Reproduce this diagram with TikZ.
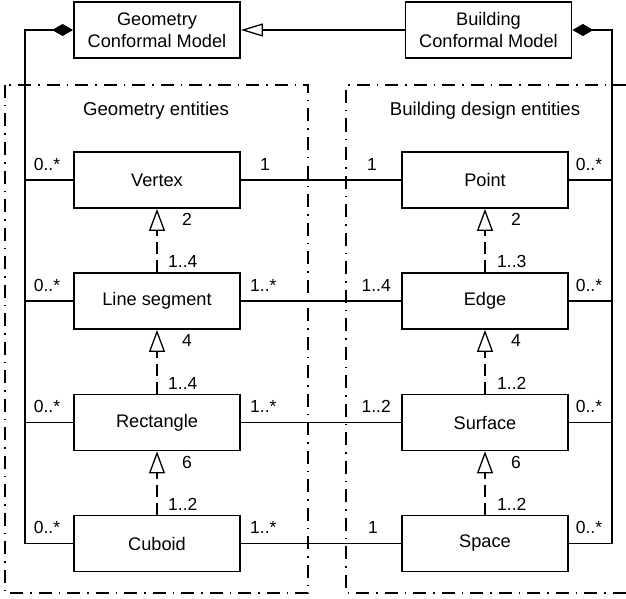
\documentclass[tikz,border=0pt]{standalone}
\usepackage{fontspec}
\setmainfont{Liberation Sans}
\usetikzlibrary{arrows.meta}
\begin{document}
\begin{tikzpicture}[x=1pt,y=-1pt,
  box/.style={draw,line width=1.8pt,minimum width=166pt,minimum height=56pt,inner sep=0pt,
    font=\fontsize{18.2}{22}\selectfont,align=center},
  lbl/.style={inner sep=0pt,font=\fontsize{17.5}{21}\selectfont},
  ttl/.style={inner sep=0pt,font=\fontsize{18.6}{22}\selectfont},
  conn/.style={line width=1.2pt},
  rail/.style={line width=1.6pt},
  frame/.style={line width=1.8pt,dash pattern=on 13pt off 7pt on 1.5pt off 7pt},
  gen/.style={conn,-{Triangle[open,length=22pt,width=13pt,line width=1.3pt]}},
  realize/.style={conn,dash pattern=on 12pt off 6pt,-{Triangle[open,length=22pt,width=16pt,line width=1.3pt]}},
  comp/.style={rail,{Diamond[length=21pt,width=12pt]}-}
]
\useasboundingbox (0,0) rectangle (626,599);

% frames
\draw[frame] (5,85) rectangle (308,593);
\draw[frame] (626,85) -- (346,85) -- (346,593) -- (626,593);

% top boxes
\node[box] (gcm) at (157,30) {Geometry\\Conformal Model};
\node[box] (bcm) at (488.5,30) {Building\\Conformal Model};

% titles
\node[ttl] (geotitle) at (156,111) {Geometry entities};
\node[ttl] (bldtitle) at (485,111) {Building design entities};

% entity boxes
\node[box] (vertex) at (157,180) {Vertex};
\node[box] (lineseg) at (157,301) {Line segment};
\node[box] (rect) at (157,422.5) {Rectangle};
\node[box] (cuboid) at (157,543.5) {Cuboid};
\node[box] (point) at (485,180) {Point};
\node[box] (edge) at (485,301) {Edge};
\node[box] (surface) at (485,422.5) {Surface};
\node[box] (space) at (485,543.5) {Space};

% generalisation between models
\draw[gen] (bcm.west) -- (gcm.east);

% rails with composition diamonds
\coordinate (lrtop) at (25,30);
\coordinate (lrbot) at (25,543.5);
\coordinate (rrtop) at (612,30);
\coordinate (rrbot) at (612,543.5);
\draw[comp] (gcm.west) -- (lrtop) -- (lrbot) -- (cuboid.west);
\draw[comp] (bcm.east) -- (rrtop) -- (rrbot) -- (space.east);
\draw[conn] (vertex.west) -- (vertex.west -| lrtop);
\draw[conn] (lineseg.west) -- (lineseg.west -| lrtop);
\draw[conn] (rect.west) -- (rect.west -| lrtop);
\draw[conn] (point.east) -- (point.east -| rrtop);
\draw[conn] (edge.east) -- (edge.east -| rrtop);
\draw[conn] (surface.east) -- (surface.east -| rrtop);

% associations
\draw[conn] (vertex.east) -- (point.west);
\draw[conn] (lineseg.east) -- (edge.west);
\draw[conn] (rect.east) -- (surface.west);
\draw[conn] (cuboid.east) -- (space.west);

% realisations
\draw[realize] (lineseg.north) -- (vertex.south);
\draw[realize] (rect.north) -- (lineseg.south);
\draw[realize] (cuboid.north) -- (rect.south);
\draw[realize] (edge.north) -- (point.south);
\draw[realize] (surface.north) -- (edge.south);
\draw[realize] (space.north) -- (surface.south);

% left rail multiplicities
\node[lbl] (m1) at (47,164) {0..*};
\node[lbl] (m2) at (47,285) {0..*};
\node[lbl] (m3) at (47,406.5) {0..*};
\node[lbl] (m4) at (47,527.5) {0..*};
% right rail multiplicities
\node[lbl] (m5) at (589,164) {0..*};
\node[lbl] (m6) at (589,285) {0..*};
\node[lbl] (m7) at (589,406.5) {0..*};
\node[lbl] (m8) at (589,527.5) {0..*};

% association multiplicities
\node[lbl,anchor=west] (a1) at (260,164) {1};
\node[lbl,anchor=west] (a2) at (250,285) {1..*};
\node[lbl,anchor=west] (a3) at (250,406.5) {1..*};
\node[lbl,anchor=west] (a4) at (250,527.5) {1..*};
\node[lbl] (b1) at (372,164) {1};
\node[lbl,anchor=east] (b2) at (391,285) {1..4};
\node[lbl,anchor=east] (b3) at (391,406.5) {1..2};
\node[lbl] (b4) at (373,527.5) {1};

% realisation multiplicities (left)
\node[lbl,anchor=west] (c1) at (182,219) {2};
\node[lbl,anchor=west] (c2) at (168,261) {1..4};
\node[lbl,anchor=west] (c3) at (182,340) {4};
\node[lbl,anchor=west] (c4) at (168,383) {1..4};
\node[lbl,anchor=west] (c5) at (182,462) {6};
\node[lbl,anchor=west] (c6) at (168,504) {1..2};
% realisation multiplicities (right)
\node[lbl,anchor=west] (d1) at (511,219) {2};
\node[lbl,anchor=west] (d2) at (497,261) {1..3};
\node[lbl,anchor=west] (d3) at (511,340) {4};
\node[lbl,anchor=west] (d4) at (497,383) {1..2};
\node[lbl,anchor=west] (d5) at (511,462) {6};
\node[lbl,anchor=west] (d6) at (497,504) {1..2};
\end{tikzpicture}
\end{document}
